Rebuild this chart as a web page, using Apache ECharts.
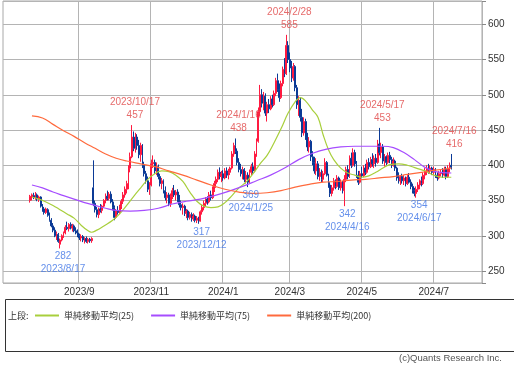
<!DOCTYPE html>
<html><head><meta charset="utf-8">
<script src="https://cdn.jsdelivr.net/npm/echarts@6/dist/echarts.min.js"></script>
<style>html,body{margin:0;padding:0;background:#fff}#c{width:514px;height:365px}</style>
</head><body><div id="c"></div>
<script>
// ---- axis calendar (TSE trading days) ----
const axisFrom = '2023/6/30';
const axisTo = '2024/8/8';
const holidays = ['2023/7/17','2023/8/11','2023/9/18','2023/10/9','2023/11/3','2023/11/23',
  '2024/1/1','2024/1/2','2024/1/3','2024/1/8','2024/2/12','2024/2/23','2024/3/20','2024/4/29',
  '2024/5/3','2024/5/6','2024/7/15'];
const tickMonths = ['2023/9','2023/11','2024/1','2024/3','2024/5','2024/7'];
const candleFrom = '2023/7/24';
// ---- daily prices [open, high, low, close] from candleFrom ----
const candles = [
[350,358,347,356],[355,360,350,358],[357,361,352,354],[354,362,351,359],[358,360,349,352],[352,357,348,355],
[355,356,340,342],[342,345,334,338],[338,341,330,333],[333,340,331,338],[337,339,327,329],[329,333,320,322],
[322,325,312,314],[314,318,305,308],[308,312,298,300],[300,306,294,303],[302,304,290,292],[288,296,282,294],
[294,302,292,300],[300,306,297,304],[304,315,302,312],[312,320,308,310],[310,318,306,316],[316,319,309,311],
[311,317,306,314],[314,316,305,307],[307,312,302,304],[304,309,298,300],[300,303,294,297],[297,302,292,299],
[299,301,291,294],[294,298,289,296],[296,299,290,292],[292,297,289,295],[295,297,290,293],[293,298,290,296],
[368,407,342,346],[346,350,333,337],[337,341,326,330],[330,340,325,338],[338,345,333,336],[336,344,332,342],
[342,352,340,350],[350,360,346,356],[356,364,350,353],[353,362,350,359],[359,363,346,348],[348,352,336,340],
[340,343,322,326],[326,338,324,335],[335,342,330,333],[333,344,331,341],[341,352,338,349],[349,362,345,358],
[358,370,354,366],[366,378,360,374],[372,400,366,396],[396,418,390,412],[412,457,410,440],[440,448,420,424],
[424,446,418,440],[440,444,422,428],[428,436,410,415],[415,432,405,428],[426,430,396,400],[400,405,384,388],
[388,392,374,378],[378,384,362,366],[366,376,358,372],[372,408,370,402],[402,414,396,404],[404,408,388,392],
[392,404,386,398],[398,401,380,384],[384,388,370,374],[374,382,366,378],[378,380,360,364],[364,370,350,354],
[354,362,346,358],[358,361,342,346],[346,360,341,356],[356,368,352,364],[364,372,355,358],[358,365,350,362],
[362,366,348,352],[352,358,340,344],[344,350,336,340],[340,346,330,342],[342,344,328,332],[332,338,325,335],
[335,337,322,326],[326,334,323,330],[330,333,320,324],[324,332,321,328],[328,330,319,322],[322,328,318,325],
[325,327,317,321],[321,336,320,334],[334,344,330,340],[340,350,336,346],[346,355,341,352],[352,356,344,348],
[348,362,346,358],[358,364,350,354],[354,370,352,366],[366,378,362,374],[374,384,368,380],[380,394,376,390],
[390,397,380,384],[384,392,376,388],[388,393,378,382],[382,396,380,392],[392,397,382,386],[386,395,380,390],
[390,398,386,396],[396,420,394,416],[416,432,412,428],[428,438,416,420],[420,424,400,404],[404,410,390,394],
[394,402,384,388],[388,398,380,394],[394,396,376,380],[380,392,374,386],[386,390,369,376],[376,394,374,390],
[390,402,386,398],[398,404,388,392],[392,420,390,416],[416,438,412,434],[434,482,432,476],[476,514,470,500],
[500,508,482,488],[488,504,478,498],[498,502,470,474],[474,490,462,486],[486,494,474,480],[480,498,478,494],
[494,500,482,486],[486,506,484,502],[502,524,498,520],[520,530,504,508],[508,516,490,496],[496,520,494,516],
[516,540,512,536],[536,552,525,530],[530,585,528,570],[570,576,545,550],[550,560,532,538],[538,548,518,524],
[524,545,520,540],[540,542,505,510],[510,514,480,486],[486,498,470,492],[492,496,462,468],[468,480,440,446],
[446,468,442,462],[462,466,436,440],[440,446,420,426],[426,440,418,434],[434,436,406,412],[412,420,400,404],
[404,412,388,392],[392,410,386,402],[402,406,380,384],[384,396,378,390],[390,394,376,380],[380,392,376,388],
[388,410,386,404],[404,406,384,386],[386,388,368,372],[372,376,355,360],[360,372,356,368],[368,382,364,378],
[378,380,366,370],[370,386,368,382],[382,384,365,368],[368,380,364,376],[376,378,360,364],[364,386,342,380],
[380,398,376,394],[394,400,380,384],[384,414,382,410],[410,418,396,400],[400,424,398,418],[418,422,398,402],
[402,406,382,386],[386,392,372,376],[376,392,374,388],[388,398,382,385],[385,400,383,396],[396,402,386,390],
[390,408,388,404],[404,410,394,398],[398,412,396,408],[408,417,398,402],[402,414,396,410],[410,416,398,404],
[404,436,402,430],[430,453,414,418],[418,432,410,426],[426,430,402,406],[406,416,398,412],[412,414,400,404],
[404,418,402,414],[414,419,403,408],[408,412,396,400],[400,411,398,406],[406,408,392,396],[396,398,378,382],
[382,390,374,378],[378,386,372,384],[384,388,374,378],[378,386,372,382],[382,384,370,374],[374,386,372,383],
[383,389,374,376],[376,380,366,370],[370,374,360,364],[364,368,356,360],[360,370,354,366],[366,376,362,372],
[372,380,366,378],[378,384,370,374],[374,390,372,386],[386,396,380,392],[392,400,386,396],[396,402,388,392],
[392,400,388,396],[396,398,386,390],[390,398,386,394],[394,396,382,386],[386,390,378,382],[382,392,380,388],
[388,394,384,390],[390,396,382,386],[386,398,384,394],[394,398,380,384],[384,400,382,396],[396,404,390,400],
[400,416,394,397]
];
// ---- moving averages, sampled [trading-day index on axis, value] ----
const ma25 = [[16,355],[20,352],[24,348],[28,343],[32,337],[36,331],[40,325],[44,315],[48,307],[50,305],[53,308],
  [57,314],[62,322],[66,331],[70,343],[74,356],[78,368],[82,380],[86,388],[90,392],[94,391],[98,386],[102,377],
  [106,362],[110,349],[114,342],[118,340],[122,341],[126,347],[130,357],[134,368],[138,376],[142,388],[146,402],
  [150,414],[154,432],[158,452],[162,474],[166,490],[169,496],[172,491],[176,478],[179,468],[182,443],[185,422],
  [188,408],[192,396],[196,389],[200,386],[204,383],[208,385],[212,390],[216,396],[220,401],[225,402],[230,400],
  [235,396],[240,392],[245,386],[250,383],[255,383]];
const ma75 = [[16,372],[22,368],[28,362],[34,357],[40,352],[46,347],[52,343],[58,339],[64,336],[72,335],[80,336],
  [88,339],[96,345],[104,349],[112,352],[120,357],[128,363],[136,370],[144,378],[152,386],[160,396],[168,408],
  [176,417],[184,423],[192,426],[200,427],[208,427],[216,427],[222,425],[228,418],[234,408],[240,397],[246,391],[255,389]];
const ma200 = [[16,470],[22,467],[28,458],[34,449],[40,441],[46,432],[52,424],[58,416],[64,410],[70,406],[78,402],
  [86,398],[94,392],[102,386],[110,379],[118,372],[126,366],[134,362],[142,360],[150,361],[158,364],[166,369],
  [174,373],[182,376],[190,377],[198,379],[206,380],[214,382],[222,384],[230,387],[238,390],[246,393],[255,396]];
// ---- annotated extremes ----
const highNotes = [['2023/10/17',457],['2024/1/16',438],['2024/2/28',585],['2024/5/17',453],['2024/7/16',416]];
const lowNotes = [['2023/8/17',282],['2023/12/12',317],['2024/1/25',369],['2024/4/16',342],['2024/6/17',354]];
const legendNames = ['単純移動平均(25)','単純移動平均(75)','単純移動平均(200)'];

function tradingDays(from, to, hol) {
  const out = [], hs = new Set(hol);
  const d = new Date(from), end = new Date(to);
  while (d <= end) {
    const w = d.getDay();
    const s = d.getFullYear() + '/' + (d.getMonth() + 1) + '/' + d.getDate();
    if (w !== 0 && w !== 6 && !hs.has(s)) out.push(s);
    d.setDate(d.getDate() + 1);
  }
  return out;
}
const dates = tradingDays(axisFrom, axisTo, holidays);
const start = dates.indexOf(candleFrom);
const kData = candles.map((c, i) => [start + i, c[0], c[3], c[2], c[1]]);
const ym = (s) => s.split('/').slice(0, 2).join('/');
const isMonthTick = (i) => i > 0 && ym(dates[i]) !== ym(dates[i - 1]) && tickMonths.includes(ym(dates[i]));
const toPts = (arr) => arr.map(p => [dates[p[0]], p[1]]);
const FONT = "'Liberation Sans','Noto Sans CJK JP',sans-serif";

const chart = echarts.init(document.getElementById('c'), null, {renderer: 'canvas'});
chart.setOption({
  animation: false,
  backgroundColor: '#fff',
  textStyle: {fontFamily: FONT},
  grid: {left: 3, right: 32, top: 1, bottom: 82, show: true, borderColor: '#a8a8a8', borderWidth: 1,
    containLabel: false, outerBoundsMode: 'none'},
  xAxis: {
    type: 'category', data: dates, boundaryGap: true,
    axisLine: {show: false}, axisTick: {show: false},
    axisLabel: {interval: (i) => isMonthTick(i), formatter: v => ym(v),
      color: '#333', fontSize: 10, margin: 4, fontFamily: FONT},
    splitLine: {show: true, interval: (i) => isMonthTick(i), lineStyle: {color: '#b4b4b4', width: 1}}
  },
  yAxis: {
    type: 'value', position: 'right', min: 233, max: 633, splitNumber: 8, scale: true,
    axisLine: {show: false},
    axisTick: {show: true, length: 4, lineStyle: {color: '#888'}},
    axisLabel: {color: '#333', fontSize: 10, margin: 6, fontFamily: FONT,
      formatter: v => (v % 50 === 0 ? String(v) : '')},
    splitLine: {show: true, lineStyle: {color: '#b4b4b4', width: 1}}
  },
  legend: {
    left: 35, top: 311, padding: 0, itemGap: 17, itemWidth: 24, itemHeight: 2, icon: 'rect',
    data: legendNames, textStyle: {fontSize: 9, color: '#333', fontFamily: "'Noto Sans CJK JP',sans-serif"},
    selectedMode: false
  },
  graphic: [
    {type: 'rect', left: 3, top: 297, shape: {width: 509, height: 52}, style: {fill: 'none', stroke: '#333', lineWidth: 1}, z: -1},
    {type: 'text', left: 8, top: 311, style: {text: '上段:', font: "9px 'Noto Sans CJK JP'", fill: '#333'}},
    {type: 'text', right: 12, top: 353, style: {text: '(c)Quants Research Inc.', font: "9.5px 'Liberation Sans'", fill: '#555'}}
  ],
  series: [
    {type: 'candlestick', data: kData, encode: {x: 0, y: [1, 2, 3, 4]}, barWidth: '80%',
      itemStyle: {color: '#ff1a40', borderColor: '#ff1a40', color0: '#0b3a96', borderColor0: '#0b3a96', borderWidth: 1}},
    {name: legendNames[0], type: 'line', data: toPts(ma25), smooth: 0.4, showSymbol: false,
      color: '#a8cf3c', lineStyle: {color: '#a8cf3c', width: 1.2}, z: 3},
    {name: legendNames[1], type: 'line', data: toPts(ma75), smooth: 0.4, showSymbol: false,
      color: '#a64dff', lineStyle: {color: '#a64dff', width: 1.2}, z: 3},
    {name: legendNames[2], type: 'line', data: toPts(ma200), smooth: 0.4, showSymbol: false,
      color: '#ff6a3d', lineStyle: {color: '#ff6a3d', width: 1.2}, z: 3},
    {type: 'scatter', data: highNotes, symbolSize: 1, itemStyle: {color: 'rgba(0,0,0,0)'}, silent: true, z: 5,
      label: {show: true, position: 'top', distance: 3, offset: [3, 0], color: '#e04545', fontSize: 10, lineHeight: 13,
        fontFamily: FONT, formatter: p => p.value[0] + '\n' + p.value[1]}},
    {type: 'scatter', data: lowNotes, symbolSize: 1, itemStyle: {color: 'rgba(0,0,0,0)'}, silent: true, z: 5,
      label: {show: true, position: 'bottom', distance: 1, offset: [3, 0], color: '#3f74e6', fontSize: 10, lineHeight: 13,
        fontFamily: FONT, formatter: p => p.value[1] + '\n' + p.value[0]}}
  ]
});
</script></body></html>
